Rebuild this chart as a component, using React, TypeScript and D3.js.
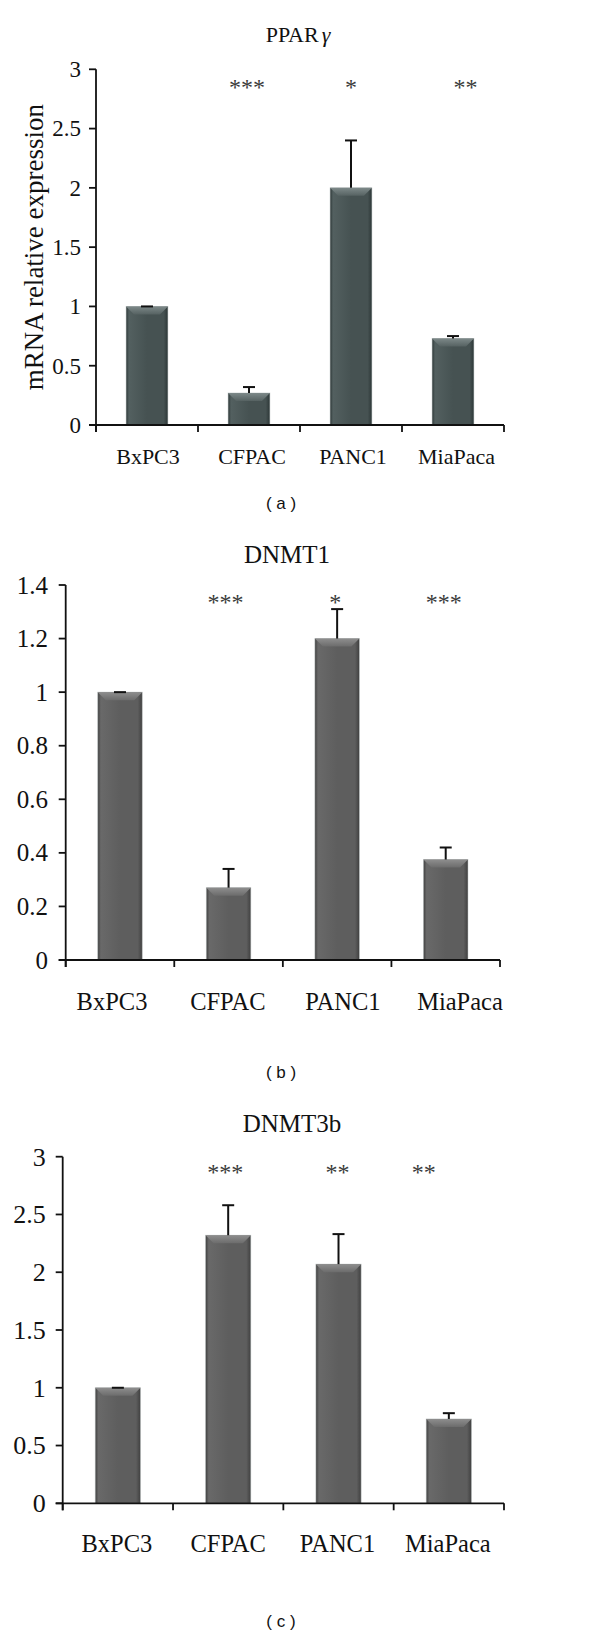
import React from "react";
import * as d3 from "d3";

// ---------- data ----------
const categories = ["BxPC3", "CFPAC", "PANC1", "MiaPaca"];

const pparMeans = [1.0, 0.27, 2.0, 0.73];
const pparErrors = [0.0, 0.05, 0.4, 0.02];
const pparSig = ["", "***", "*", "**"];
const pparTicks = [0, 0.5, 1, 1.5, 2, 2.5, 3];

const dnmt1Means = [1.0, 0.27, 1.2, 0.375];
const dnmt1Errors = [0.0, 0.07, 0.11, 0.045];
const dnmt1Sig = ["", "***", "*", "***"];
const dnmt1Ticks = [0, 0.2, 0.4, 0.6, 0.8, 1, 1.2, 1.4];

const dnmt3bMeans = [1.0, 2.32, 2.07, 0.73];
const dnmt3bErrors = [0.0, 0.26, 0.26, 0.05];
const dnmt3bSig = ["", "***", "**", "**"];
const dnmt3bTicks = [0, 0.5, 1, 1.5, 2, 2.5, 3];

// ---------- layout ----------
const SERIF = "'Liberation Serif', 'Times New Roman', serif";
const SANS = "'Liberation Sans', Arial, sans-serif";

type Panel = {
  id: string;
  title: string;
  titleItalic?: string;
  means: number[];
  errors: number[];
  sig: string[];
  ticks: number[];
  x0: number; x1: number; yTop: number; yZero: number;
  titleX: number; titleY: number; titleSize: number;
  tickSize: number; tickGap: number;
  catSize: number; catY: number; catOffsets: number[];
  sigY: number; sigOffsets: number[]; sigSize: number;
  sub: string; subY: number;
  yLabel?: string;
  palette: { body: string; edge: string; light: string; bevelTop: string; bevelBot: string };
};

const tealPalette = { body: "#465252", edge: "#2c3636", light: "#536060", bevelTop: "#7d8989", bevelBot: "#566262" };
const grayPalette = { body: "#5e5e5e", edge: "#404040", light: "#696969", bevelTop: "#8e8e8e", bevelBot: "#6c6c6c" };

const panels: Panel[] = [
  {
    id: "a", title: "PPAR", titleItalic: "γ",
    means: pparMeans, errors: pparErrors, sig: pparSig, ticks: pparTicks,
    x0: 96, x1: 504, yTop: 69.3, yZero: 425,
    titleX: 298, titleY: 42, titleSize: 22,
    tickSize: 23, tickGap: 15,
    catSize: 22, catY: 464, catOffsets: [1, 3, 2, 3.5],
    sigY: 82, sigOffsets: [0, -2, 0, 12.5], sigSize: 24,
    sub: "( a )", subY: 509,
    yLabel: "mRNA relative expression",
    palette: tealPalette,
  },
  {
    id: "b", title: "DNMT1",
    means: dnmt1Means, errors: dnmt1Errors, sig: dnmt1Sig, ticks: dnmt1Ticks,
    x0: 65.7, x1: 500, yTop: 585, yZero: 960,
    titleX: 287, titleY: 563, titleSize: 25,
    tickSize: 25, tickGap: 17.7,
    catSize: 24.5, catY: 1010, catOffsets: [-8, -0.7, 5.7, 14.3],
    sigY: 597, sigOffsets: [0, -3, -2, -2], sigSize: 24,
    sub: "( b )", subY: 1078,
    palette: grayPalette,
  },
  {
    id: "c", title: "DNMT3b",
    means: dnmt3bMeans, errors: dnmt3bErrors, sig: dnmt3bSig, ticks: dnmt3bTicks,
    x0: 62.7, x1: 504, yTop: 1156.7, yZero: 1503.3,
    titleX: 292, titleY: 1132, titleSize: 25,
    tickSize: 26, tickGap: 17,
    catSize: 24.5, catY: 1552, catOffsets: [-1, 0, -1, -1],
    sigY: 1167, sigOffsets: [0, -3, -1, -25], sigSize: 24,
    sub: "( c )", subY: 1627,
    palette: grayPalette,
  },
];

function BarPanel({ p }: { p: Panel }) {
  const yMax = p.ticks[p.ticks.length - 1];
  const x = d3.scaleBand<string>().domain(categories).range([p.x0, p.x1]).paddingInner(0.59).paddingOuter(0.295);
  const y = d3.scaleLinear().domain([0, yMax]).range([p.yZero, p.yTop]);
  const step = x.step();
  const bw = x.bandwidth();
  const bevel = 8;
  const capW = 12;
  const bounds = d3.range(categories.length + 1).map((i) => p.x0 + i * step);

  return (
    <g>
      <defs>
        <linearGradient id={`body-${p.id}`} x1="0" x2="1" y1="0" y2="0">
          <stop offset="0" stopColor={p.palette.edge} />
          <stop offset="0.07" stopColor={p.palette.light} />
          <stop offset="0.5" stopColor={p.palette.body} />
          <stop offset="0.9" stopColor={p.palette.body} />
          <stop offset="1" stopColor={p.palette.edge} />
        </linearGradient>
        <linearGradient id={`bevel-${p.id}`} x1="0" x2="0" y1="0" y2="1">
          <stop offset="0" stopColor={p.palette.bevelTop} />
          <stop offset="1" stopColor={p.palette.bevelBot} />
        </linearGradient>
      </defs>

      {/* title */}
      <text x={p.titleX} y={p.titleY} textAnchor="middle" fontFamily={SERIF} fontSize={p.titleSize} fill="#111">
        {p.title}
        {p.titleItalic ? <tspan fontStyle="italic" dx={3}>{p.titleItalic}</tspan> : null}
      </text>

      {/* bars */}
      {categories.map((c, i) => {
        const bx = x(c)!;
        const top = y(p.means[i]);
        const h = p.yZero - top;
        const bv = Math.min(bevel, h / 2);
        return (
          <g key={c}>
            <rect x={bx} y={top} width={bw} height={h} fill={`url(#body-${p.id})`} stroke="#b8bebe" strokeOpacity={0.6} strokeWidth={0.8} />
            <polygon
              points={`${bx},${top} ${bx + bw},${top} ${bx + bw - bv},${top + bv} ${bx + bv},${top + bv}`}
              fill={`url(#bevel-${p.id})`}
            />
          </g>
        );
      })}

      {/* error bars */}
      {categories.map((c, i) => {
        const cx = x(c)! + bw / 2;
        const top = y(p.means[i]);
        const et = y(p.means[i] + p.errors[i]);
        return (
          <g key={`e-${c}`} stroke="#111" strokeWidth={2}>
            {p.errors[i] > 0 ? <line x1={cx} x2={cx} y1={top} y2={et} /> : null}
            <line x1={cx - capW / 2} x2={cx + capW / 2} y1={et} y2={et} />
          </g>
        );
      })}

      {/* axes */}
      <g stroke="#111" strokeWidth={1.8} fill="none">
        <line x1={p.x0} x2={p.x0} y1={p.yTop} y2={p.yZero + 7} />
        <line x1={p.x0 - 7} x2={p.x1} y1={p.yZero} y2={p.yZero} />
        {p.ticks.map((t) => (
          <line key={`yt-${t}`} x1={p.x0 - 7} x2={p.x0} y1={y(t)} y2={y(t)} />
        ))}
        {bounds.map((bxv, i) => (
          <line key={`xt-${i}`} x1={bxv} x2={bxv} y1={p.yZero} y2={p.yZero + 7} />
        ))}
      </g>

      {/* y tick labels */}
      {p.ticks.map((t) => (
        <text key={`yl-${t}`} x={p.x0 - p.tickGap} y={y(t)} dy="0.34em" textAnchor="end" fontFamily={SERIF} fontSize={p.tickSize} fill="#111">
          {String(t)}
        </text>
      ))}

      {/* category labels */}
      {categories.map((c, i) => (
        <text key={`cl-${c}`} x={x(c)! + bw / 2 + p.catOffsets[i]} y={p.catY} textAnchor="middle" fontFamily={SERIF} fontSize={p.catSize} fill="#111">
          {c}
        </text>
      ))}

      {/* significance */}
      {categories.map((c, i) =>
        p.sig[i] ? (
          <text key={`s-${c}`} x={x(c)! + bw / 2 + p.sigOffsets[i]} y={p.sigY + p.sigSize * 0.55} textAnchor="middle" fontFamily={SERIF} fontSize={p.sigSize} fill="#3a3a3a">
            {p.sig[i]}
          </text>
        ) : null
      )}

      {/* y label */}
      {p.yLabel ? (
        <text transform={`translate(43, ${(p.yTop + p.yZero) / 2}) rotate(-90)`} textAnchor="middle" fontFamily={SERIF} fontSize={27} fill="#111">
          {p.yLabel}
        </text>
      ) : null}

      {/* subfigure label */}
      <text x={281} y={p.subY} textAnchor="middle" fontFamily={SANS} fontSize={17} fill="#111">
        {p.sub}
      </text>
    </g>
  );
}

export default function App() {
  return (
    <svg
      width={600}
      height={1646}
      viewBox="0 0 600 1646"
      style={{ position: "absolute", left: 0, top: 0, background: "#fff" }}
    >
      <rect x={0} y={0} width={600} height={1646} fill="#fff" />
      {panels.map((p) => (
        <BarPanel key={p.id} p={p} />
      ))}
    </svg>
  );
}
